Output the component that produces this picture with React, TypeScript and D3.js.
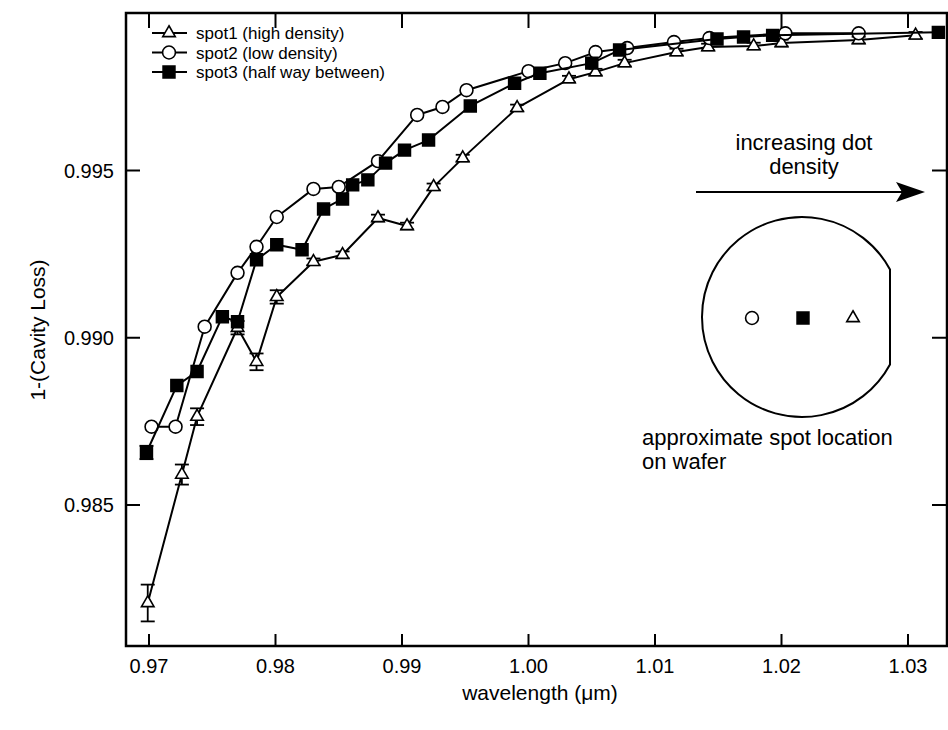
import React from 'react'
import { scaleLinear, line, symbol, symbolTriangle, symbolCircle, symbolSquare } from 'd3'

// wavelength (um) and 1-(cavity loss)
const spot1X = [0.9699, 0.9726, 0.9738, 0.9770, 0.9785, 0.9801, 0.9830, 0.9853, 0.9881, 0.9904, 0.9925, 0.9948, 0.9991, 1.0032, 1.0053, 1.0076, 1.0117, 1.0142, 1.0178, 1.0200, 1.0261, 1.0306]
const spot1Y = [0.98207, 0.98591, 0.98764, 0.99030, 0.98928, 0.99122, 0.99227, 0.99248, 0.99358, 0.99334, 0.99451, 0.99537, 0.99687, 0.99773, 0.99794, 0.99821, 0.99854, 0.99869, 0.99872, 0.99881, 0.99890, 0.99904]
const spot1Err = [0.00055, 0.0003, 0.00025, 0.0002, 0.00025, 0.0002, 0.0001, 0.0001, 0.0001, 0.0001, 0.0001, 0.0001, 0.0001, 0.0001, 0.0001, 0.0001, 0.0001, 0.0001, 0.0001, 0.0001, 0.0001, 0.0001]

const spot2X = [0.9702, 0.9721, 0.9744, 0.9770, 0.9785, 0.9801, 0.9830, 0.9850, 0.9881, 0.9912, 0.9932, 0.9951, 1.0000, 1.0029, 1.0053, 1.0078, 1.0115, 1.0143, 1.0203, 1.0261]
const spot2Y = [0.98734, 0.98734, 0.99033, 0.99194, 0.99272, 0.99361, 0.99445, 0.99451, 0.99528, 0.99666, 0.99690, 0.99740, 0.99797, 0.99821, 0.99854, 0.99866, 0.99884, 0.99896, 0.99910, 0.99910]

const spot3X = [0.9698, 0.9722, 0.9738, 0.9758, 0.9770, 0.9785, 0.9801, 0.9821, 0.9838, 0.9853, 0.9861, 0.9873, 0.9887, 0.9902, 0.9921, 0.9954, 0.9989, 1.0009, 1.0050, 1.0072, 1.0149, 1.0170, 1.0193, 1.0324]
const spot3Y = [0.98657, 0.98857, 0.98899, 0.99063, 0.99048, 0.99233, 0.99278, 0.99263, 0.99385, 0.99415, 0.99457, 0.99472, 0.99522, 0.99561, 0.99591, 0.99693, 0.99761, 0.99791, 0.99821, 0.99860, 0.99893, 0.99899, 0.99904, 0.99913]
const spot3Err = [0.0002]

const xTicks = [0.97, 0.98, 0.99, 1.0, 1.01, 1.02, 1.03]
const yTicks = [0.985, 0.99, 0.995]
const legendLabels = ['spot1 (high density)', 'spot2 (low density)', 'spot3 (half way between)']

const W = 948
const H = 730
const frame = { left: 126, right: 947, top: 13, bottom: 646 }
const font = '"Liberation Sans", Arial, Helvetica, sans-serif'

const x = scaleLinear().domain([0.97, 1.03]).range([149, 908])
const y = scaleLinear().domain([0.985, 0.995]).range([505, 170.5])

const tri = symbol(symbolTriangle, 68)()
const circ = symbol(symbolCircle, 130)()
const sq = symbol(symbolSquare, 140)()

const markerFor = {
  spot1: { d: tri, fill: '#fff' },
  spot2: { d: circ, fill: '#fff' },
  spot3: { d: sq, fill: '#000' },
}

const series = [
  { key: 'spot1', xs: spot1X, ys: spot1Y, err: spot1Err },
  { key: 'spot2', xs: spot2X, ys: spot2Y, err: [] },
  { key: 'spot3', xs: spot3X, ys: spot3Y, err: spot3Err },
]

const Marker = ({ kind, cx, cy }) => (
  <path d={markerFor[kind].d} transform={`translate(${cx},${cy})`}
    fill={markerFor[kind].fill} stroke="#000" strokeWidth={1.6} />
)

export default function App() {
  const path = line<number>()
  // wafer outline: circle with a flat on the right side
  const wc = { cx: 802, cy: 317, r: 100, flat: 88 }
  const dy = Math.sqrt(wc.r * wc.r - wc.flat * wc.flat)
  const wafer = `M${wc.cx + wc.flat},${wc.cy - dy} A${wc.r},${wc.r} 0 1 0 ${wc.cx + wc.flat},${wc.cy + dy} Z`

  return (
    <svg width={W} height={H} style={{ position: 'absolute', left: 0, top: 0, background: '#fff' }}
      fontFamily={font}>
      <rect x={0} y={0} width={W} height={H} fill="#fff" />

      {/* series lines, error bars, markers */}
      {series.map(s => {
        const pts = s.xs.map((v, i) => [x(v), y(s.ys[i])] as [number, number])
        return (
          <g key={s.key}>
            <path d={path(pts)} fill="none" stroke="#000" strokeWidth={2} strokeLinejoin="round" />
            {s.err.map((e, i) => {
              const px = x(s.xs[i])
              const y0 = y(s.ys[i] - e)
              const y1 = y(s.ys[i] + e)
              return (
                <g key={i} stroke="#000" strokeWidth={1.8}>
                  <line x1={px} x2={px} y1={y0} y2={y1} />
                  <line x1={px - 7} x2={px + 7} y1={y0} y2={y0} />
                  <line x1={px - 7} x2={px + 7} y1={y1} y2={y1} />
                </g>
              )
            })}
            {pts.map((p, i) => <Marker key={i} kind={s.key} cx={p[0]} cy={p[1]} />)}
          </g>
        )
      })}

      {/* frame with inward ticks */}
      <rect x={frame.left} y={frame.top} width={frame.right - frame.left} height={frame.bottom - frame.top}
        fill="none" stroke="#000" strokeWidth={2.5} />
      {xTicks.map(t => (
        <g key={t} stroke="#000" strokeWidth={2}>
          <line x1={x(t)} x2={x(t)} y1={frame.bottom} y2={frame.bottom - 12} />
          <line x1={x(t)} x2={x(t)} y1={frame.top} y2={frame.top + 15} />
        </g>
      ))}
      {yTicks.map(t => (
        <g key={t} stroke="#000" strokeWidth={2}>
          <line x1={frame.left} x2={frame.left + 14} y1={y(t)} y2={y(t)} />
          <line x1={frame.right} x2={frame.right - 15} y1={y(t)} y2={y(t)} />
        </g>
      ))}

      {/* tick labels */}
      {xTicks.map(t => (
        <text key={t} x={x(t)} y={frame.bottom + 27} textAnchor="middle" fontSize={20}>{t.toFixed(2)}</text>
      ))}
      {yTicks.map(t => (
        <text key={t} x={frame.left - 12} y={y(t) + 7} textAnchor="end" fontSize={20}>{t.toFixed(3)}</text>
      ))}

      {/* axis titles */}
      <text x={540} y={700} textAnchor="middle" fontSize={21}>wavelength (μm)</text>
      <text transform={`translate(45,330) rotate(-90)`} textAnchor="middle" fontSize={21}>1-(Cavity Loss)</text>

      {/* legend */}
      {series.map((s, i) => {
        const ly = 33 + i * 19.5
        return (
          <g key={s.key}>
            <line x1={152} x2={187} y1={ly} y2={ly} stroke="#000" strokeWidth={2} />
            <Marker kind={s.key} cx={169} cy={ly} />
            <text x={196} y={ly + 6} fontSize={17}>{legendLabels[i]}</text>
          </g>
        )
      })}

      {/* annotation: direction of increasing density */}
      <text x={804} y={150} textAnchor="middle" fontSize={22}>increasing dot</text>
      <text x={804} y={174} textAnchor="middle" fontSize={22}>density</text>
      <line x1={696} x2={905} y1={192} y2={192} stroke="#000" strokeWidth={2} />
      <path d="M925,192 L896,182 L902,192 L896,202 Z" fill="#000" />

      {/* wafer sketch with spot positions */}
      <path d={wafer} fill="none" stroke="#000" strokeWidth={2} />
      <Marker kind="spot2" cx={752} cy={318} />
      <Marker kind="spot3" cx={803} cy={318} />
      <Marker kind="spot1" cx={853} cy={318} />
      <text x={642} y={445} fontSize={22}>approximate spot location</text>
      <text x={642} y={469} fontSize={22}>on wafer</text>
    </svg>
  )
}
